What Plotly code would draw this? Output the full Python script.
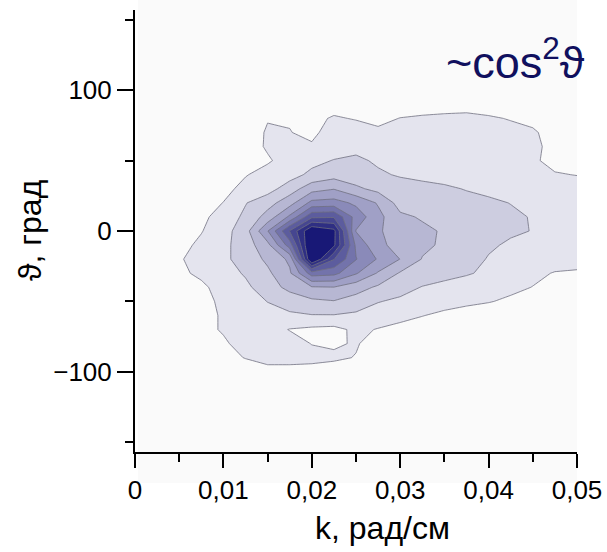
import plotly.graph_objects as go

# wavenumber k (rad/cm) grid columns
k_vals = [0.0, 0.0025, 0.005, 0.0075, 0.01, 0.0125, 0.015, 0.0175, 0.02, 0.0225,
          0.025, 0.0275, 0.03, 0.0325, 0.035, 0.0375, 0.04, 0.0425, 0.045, 0.0475, 0.05]
# angle theta (deg) grid rows
theta_vals = [-110, -100, -90, -80, -70, -60, -50, -40, -30, -20, -10,
              0, 10, 20, 30, 40, 50, 60, 70, 80, 90, 100]

# estimated density (contour level units), row per theta
density = [
    [0, 0, 0, 0, 0, 0, 0, 0, 0, 0, 0, 0, 0, 0, 0, 0, 0, 0, 0, 0, 0],
    [0, 0, 0, 0, 0.1, 0.3, 0.6, 0.6, 0.6, 0.4, 0.2, 0.1, 0, 0, 0, 0, 0, 0, 0, 0, 0],
    [0, 0, 0, 0.2, 0.6, 1.05, 1.4, 1.4, 1.3, 1.2, 0.95, 0.3, 0.2, 0.1, 0, 0, 0, 0, 0, 0, 0],
    [0, 0, 0, 0.2, 0.85, 1.4, 1.6, 1.4, 0.97, 0.85, 1.1, 0.5, 0.3, 0.2, 0.1, 0, 0, 0, 0, 0, 0],
    [0, 0, 0.1, 0.7, 1.1, 1.5, 1.4, 0.96, 0.8, 0.72, 1.2, 0.95, 0.7, 0.55, 0.4, 0.3, 0.2, 0.1, 0, 0, 0],
    [0, 0, 0.3, 0.7, 1.1, 1.4, 1.7, 1.85, 1.95, 1.95, 1.8, 1.5, 1.3, 1.03, 0.8, 0.6, 0.5, 0.4, 0.3, 0.2, 0.1],
    [0, 0, 0.3, 0.7, 1.2, 1.6, 2.02, 2.4, 2.8, 2.95, 2.6, 2.05, 1.8, 1.5, 1.35, 1.2, 1.05, 0.85, 0.6, 0.4, 0.3],
    [0, 0.1, 0.4, 0.8, 1.4, 1.8, 2.5, 3.3, 3.9, 3.97, 3.4, 2.85, 2.4, 1.95, 1.7, 1.5, 1.35, 1.2, 0.98, 0.8, 0.7],
    [0, 0.3, 0.8, 1.2, 1.6, 2.1, 2.8, 3.85, 6.5, 6.3, 5.1, 3.9, 2.9, 2.6, 2.35, 2.1, 1.8, 1.5, 1.2, 0.95, 0.9],
    [0, 0.3, 0.9, 1.4, 1.8, 2.4, 3.2, 4.2, 11.3, 8.05, 6.05, 4.9, 3.98, 2.95, 2.6, 2.3, 1.95, 1.8, 1.6, 1.4, 1.3],
    [0, 0.2, 0.7, 1.2, 1.75, 2.5, 3.7, 6.5, 11.5, 10.2, 5.8, 4.2, 3.7, 3.2, 2.85, 2.6, 2.1, 1.9, 1.75, 1.6, 1.5],
    [0, 0.2, 0.6, 0.95, 1.6, 2.6, 4.95, 8.05, 11.0, 10.3, 4.95, 4.1, 3.6, 3.2, 2.9, 2.6, 2.3, 2.1, 1.98, 1.7, 1.6],
    [0, 0.1, 0.4, 0.75, 1.45, 2.2, 3.4, 5.2, 7.8, 7.9, 5.6, 4.3, 3.2, 2.9, 2.7, 2.5, 2.3, 2.15, 1.95, 1.7, 1.6],
    [0, 0, 0.2, 0.6, 1.02, 1.95, 2.6, 3.6, 5.3, 5.4, 4.8, 3.9, 2.6, 2.55, 2.4, 2.3, 2.15, 1.98, 1.8, 1.6, 1.5],
    [0, 0, 0, 0.3, 0.75, 1.25, 1.6, 2.5, 3.6, 3.95, 3.2, 2.7, 2.45, 2.3, 2.15, 1.95, 1.8, 1.6, 1.45, 1.35, 1.3],
    [0, 0, 0, 0.1, 0.4, 0.95, 1.3, 1.6, 2.25, 2.6, 2.4, 2.15, 1.9, 1.75, 1.65, 1.55, 1.45, 1.35, 1.2, 1.05, 0.98],
    [0, 0, 0, 0, 0.2, 0.5, 0.9, 1.35, 1.7, 2.05, 2.2, 1.85, 1.65, 1.5, 1.45, 1.4, 1.35, 1.25, 1.1, 0.8, 0.7],
    [0, 0, 0, 0, 0.1, 0.6, 1.1, 1.2, 1.08, 1.45, 1.7, 1.55, 1.45, 1.4, 1.4, 1.45, 1.4, 1.3, 1.15, 0.8, 0.6],
    [0, 0, 0, 0, 0, 0.5, 1.1, 1.02, 0.85, 1.3, 1.35, 1.15, 1.2, 1.3, 1.35, 1.4, 1.35, 1.25, 1.1, 0.7, 0.5],
    [0, 0, 0, 0, 0, 0.3, 0.95, 0.95, 0.8, 1.08, 0.95, 0.8, 1.02, 1.1, 1.15, 1.2, 1.1, 0.95, 0.8, 0.5, 0.4],
    [0, 0, 0, 0, 0, 0.1, 0.4, 0.5, 0.5, 0.7, 0.6, 0.5, 0.6, 0.65, 0.7, 0.7, 0.6, 0.5, 0.3, 0.2, 0.1],
    [0, 0, 0, 0, 0, 0, 0, 0, 0, 0, 0, 0, 0, 0, 0, 0, 0, 0, 0, 0, 0],
]

band_colors = ['rgba(255,255,255,0)', '#e4e4ee', '#cdcde0', '#b7b7d3', '#a0a0c6', '#8a8ab9',
               '#7373ab', '#5c5c9e', '#464690', '#2f2f83', '#181876']

x_tickvals = [0, 0.01, 0.02, 0.03, 0.04, 0.05]
x_ticktext = ['0', '0,01', '0,02', '0,03', '0,04', '0,05']
x_minor = [0.005, 0.015, 0.025, 0.035, 0.045]
y_tickvals = [-100, 0, 100]
y_ticktext = ['\u2212100', '0', '100']
y_minor = [-150, -50, 50, 150]

colorscale = [[i / (len(band_colors) - 1), c] for i, c in enumerate(band_colors)]

FONT = 'Liberation Sans, Arial, sans-serif'

fig = go.Figure(go.Contour(
    x=k_vals, y=theta_vals, z=density,
    autocontour=False,
    contours=dict(start=1, end=10, size=1, coloring='fill', showlines=True),
    colorscale=colorscale,
    line=dict(color='#707080', width=0.8, smoothing=0),
    showscale=False,
    hoverinfo='skip',
))

axis_common = dict(showline=True, linecolor='black', linewidth=2, ticks='outside',
                   tickwidth=2, tickcolor='black', showgrid=False, zeroline=False,
                   automargin=False,
                   tickfont=dict(family=FONT, size=26, color='black'))

fig.update_xaxes(range=[0, 0.05], tickmode='array', tickvals=x_tickvals, ticktext=x_ticktext,
                 ticklen=14,
                 minor=dict(tickmode='array', tickvals=x_minor, ticks='outside', ticklen=8,
                            tickwidth=2, tickcolor='black', showgrid=False),
                 **axis_common)
fig.update_yaxes(range=[-157, 157], tickmode='array', tickvals=y_tickvals, ticktext=y_ticktext,
                 ticklen=16,
                 minor=dict(tickmode='array', tickvals=y_minor, ticks='outside', ticklen=8,
                            tickwidth=2, tickcolor='black', showgrid=False),
                 **axis_common)

fig.update_layout(
    width=607, height=552, autosize=False,
    margin=dict(l=135, r=30, t=10, b=100),
    paper_bgcolor='white', plot_bgcolor='rgba(0,0,0,0)',
    showlegend=False,
    shapes=[dict(type='rect', xref='paper', yref='paper', x0=0.007, x1=1.0, y0=-0.07, y1=1.03,
                 fillcolor='#fafafa', line=dict(width=0), layer='below')],
    annotations=[
        dict(text='k, рад/см', xref='paper', yref='paper', x=0.56, y=-0.172,
             xanchor='center', yanchor='middle', showarrow=False,
             font=dict(family=FONT, size=32, color='black')),
        dict(text='ϑ, град', xref='paper', yref='paper', x=-0.238, y=0.502,
             xanchor='center', yanchor='middle', showarrow=False, textangle=-90,
             font=dict(family=FONT, size=32, color='black')),
        dict(text='~cos<sup>2</sup>ϑ', xref='paper', yref='paper', x=1.022, y=0.889,
             xanchor='right', yanchor='middle', showarrow=False,
             font=dict(family=FONT, size=45, color='#10105e')),
    ],
)

fig.write_html('out.html')
